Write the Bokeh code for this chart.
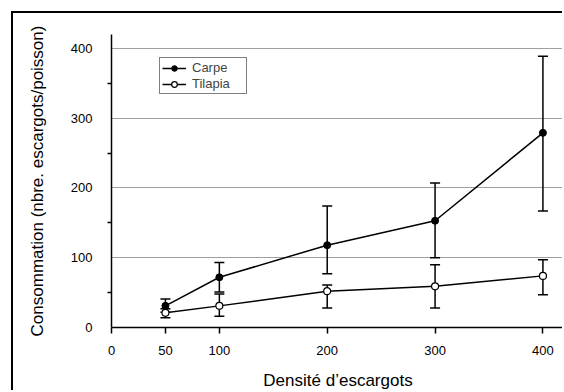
from bokeh.plotting import figure
from bokeh.models import (ColumnDataSource, Whisker, TeeHead, FixedTicker, Legend, LegendItem, Range1d)
from bokeh.embed import file_html
from bokeh.resources import INLINE

# Data
density = [50, 100, 200, 300, 400]
carpe = [31, 72, 118, 153, 279]
carpe_hi = [41, 93, 174, 207, 389]
carpe_lo = [22, 51, 77, 100, 167]
tilapia = [21, 31, 52, 59, 74]
tilapia_hi = [27, 48, 61, 90, 97]
tilapia_lo = [14, 16, 28, 28, 47]
x_ticks = [0, 50, 100, 200, 300, 400]
y_ticks = [0, 100, 200, 300, 400]

FONT = "Liberation Sans"

p = figure(width=551, height=379, output_backend="svg", toolbar_location=None,
           x_range=Range1d(0, 420), y_range=Range1d(0, 420),
           min_border_left=98, min_border_right=0, min_border_top=21, min_border_bottom=64)
p.outline_line_color = None
p.background_fill_color = "white"
p.border_fill_color = "white"
p.styles = {"border-left": "2px solid black", "border-top": "2px solid black",
            "margin-left": "11px", "margin-top": "11px"}

# grid
p.xgrid.grid_line_color = None
p.ygrid.ticker = FixedTicker(ticks=[100, 200, 300, 400])
p.ygrid.grid_line_color = "#a0a0a0"
p.ygrid.grid_line_width = 1

# x axis
xa = p.xaxis[0]
xa.ticker = FixedTicker(ticks=x_ticks)
xa.axis_line_width = 1.5
xa.axis_line_color = "black"
xa.major_tick_out = 6
xa.major_tick_in = 0
xa.major_tick_line_width = 1.5
xa.minor_tick_line_color = None
xa.major_label_text_font = FONT
xa.major_label_text_font_size = "13px"
xa.major_label_text_color = "black"
xa.major_label_standoff = 12
xa.axis_label = "Densité d’escargots"
xa.axis_label_text_font = FONT
xa.axis_label_text_font_size = "17px"
xa.axis_label_text_font_style = "normal"
xa.axis_label_text_color = "black"
xa.axis_label_standoff = 13

# y axis
ya = p.yaxis[0]
ya.ticker = FixedTicker(ticks=y_ticks, minor_ticks=[50, 150, 250, 350])
ya.axis_line_width = 1.5
ya.axis_line_color = "black"
ya.major_tick_out = 0
ya.major_tick_in = 0
ya.minor_tick_out = 4
ya.minor_tick_in = 0
ya.minor_tick_line_width = 1.5
ya.minor_tick_line_color = "black"
ya.major_label_text_font = FONT
ya.major_label_text_font_size = "13px"
ya.major_label_text_color = "black"
ya.major_label_standoff = 15
ya.axis_label = "Consommation (nbre. escargots/poisson)"
ya.axis_label_text_font = FONT
ya.axis_label_text_font_size = "17px"
ya.axis_label_text_font_style = "normal"
ya.axis_label_text_color = "black"
ya.axis_label_standoff = 21

src_c = ColumnDataSource(dict(x=density, y=carpe, hi=carpe_hi, lo=carpe_lo))
src_t = ColumnDataSource(dict(x=density, y=tilapia, hi=tilapia_hi, lo=tilapia_lo))

for src in (src_c, src_t):
    w = Whisker(source=src, base="x", upper="hi", lower="lo",
                line_color="black", line_width=1.5,
                upper_head=TeeHead(size=10, line_width=1.5, line_color="black"),
                lower_head=TeeHead(size=10, line_width=1.5, line_color="black"))
    p.add_layout(w)

lc = p.line("x", "y", source=src_c, line_color="black", line_width=1.5)
sc = p.scatter("x", "y", source=src_c, size=7, fill_color="black", line_color="black", line_width=1)
lt = p.line("x", "y", source=src_t, line_color="black", line_width=1.5)
st = p.scatter("x", "y", source=src_t, size=7, fill_color="white", line_color="black", line_width=1.2)

legend = Legend(items=[LegendItem(label="Carpe", renderers=[lc, sc]),
                       LegendItem(label="Tilapia", renderers=[lt, st])],
                location=(48, 233), padding=2, spacing=1, glyph_width=24, glyph_height=14,
                label_height=14, label_width=52, label_standoff=6, margin=0,
                label_text_font=FONT, label_text_font_size="13px",
                border_line_color="black", border_line_width=1.5,
                background_fill_alpha=1.0)
p.add_layout(legend, "center")

open("out.html", "w").write(file_html(p, INLINE))
